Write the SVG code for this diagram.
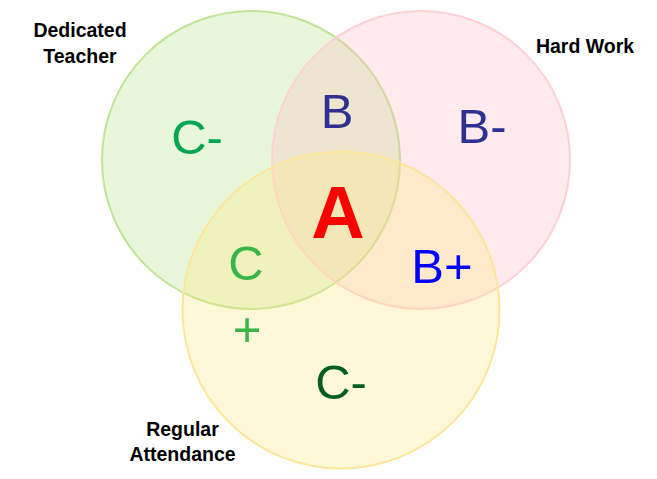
<svg xmlns="http://www.w3.org/2000/svg" width="657" height="479" viewBox="0 0 657 479">
<style>
.lbl{font-family:"Liberation Sans",Arial,sans-serif;font-weight:bold;font-size:19.5px;fill:#000;text-anchor:middle}
.g{font-family:"Liberation Sans",Arial,sans-serif;font-size:49px;text-anchor:middle}
</style>
<rect width="657" height="479" fill="#ffffff"/>
<g id="circle-teacher"><circle cx="251" cy="160" r="149" fill="rgb(180,230,130)" fill-opacity="0.3" stroke="#bfe496" stroke-width="2"/></g>
<g id="circle-hardwork"><circle cx="421" cy="160" r="149" fill="rgb(255,175,185)" fill-opacity="0.25" stroke="#ffd0d4" stroke-width="2"/></g>
<g id="circle-attendance"><circle cx="341" cy="310" r="158.5" fill="rgb(255,232,125)" fill-opacity="0.3" stroke="#fde69a" stroke-width="2"/></g>
<g id="labels">
<text class="lbl" x="80" y="37">Dedicated</text>
<text class="lbl" x="80" y="63">Teacher</text>
<text class="lbl" x="585" y="53">Hard Work</text>
<text class="lbl" x="182.5" y="436">Regular</text>
<text class="lbl" x="182.5" y="461">Attendance</text>
</g>
<g id="grades">
<text class="g" x="197" y="154" fill="#00a651">C-</text>
<text class="g" x="337" y="128" fill="#2e3192">B</text>
<text class="g" x="482" y="143" fill="#2e3192">B-</text>
<text class="g" x="338" y="238" fill="#ff0000" style="font-weight:bold;font-size:74px">A</text>
<text class="g" x="442" y="283" fill="#0000ff">B+</text>
<text class="g" fill="#39b54a"><tspan x="246" y="280">C</tspan><tspan x="247" y="346">+</tspan></text>
<text class="g" x="341" y="399" fill="#005e20">C-</text>
</g>
</svg>
